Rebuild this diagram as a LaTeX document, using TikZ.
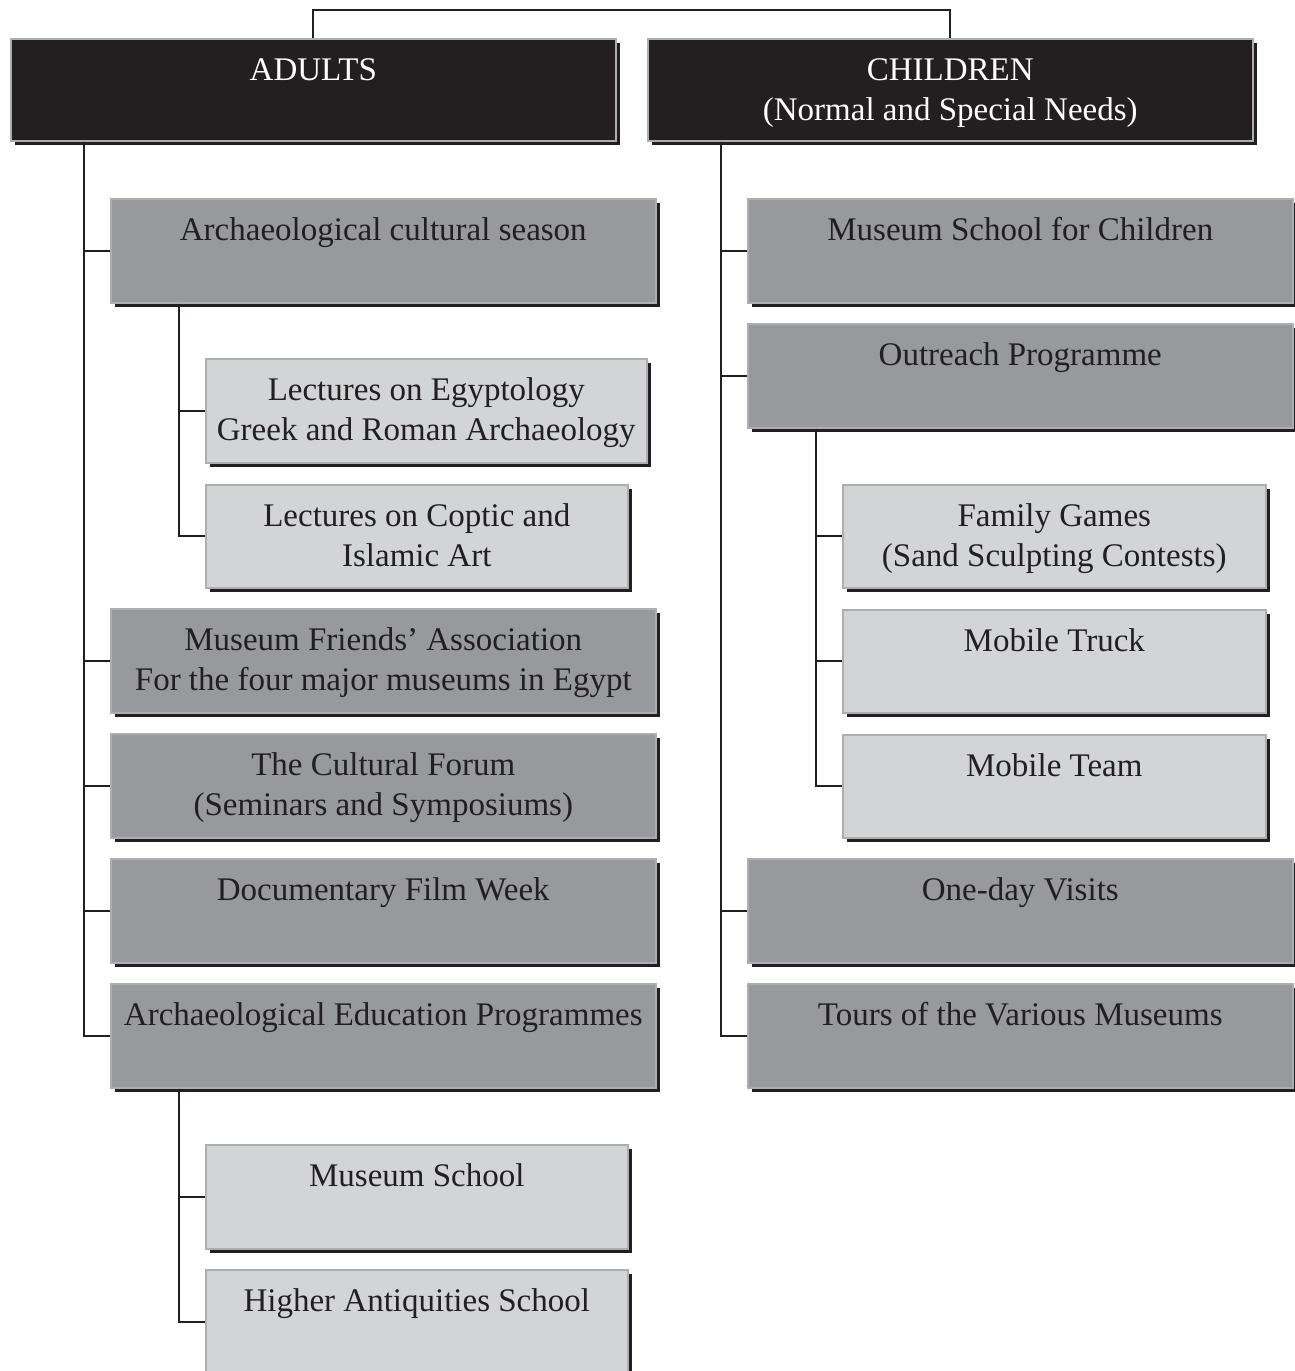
\documentclass[tikz,border=0pt]{standalone}
\usepackage{fontspec}
\setmainfont{Liberation Serif}
\usetikzlibrary{shadows}
\definecolor{ink}{HTML}{231F20}
\definecolor{dgrey}{HTML}{98999D}
\definecolor{lgrey}{HTML}{D3D4D6}
\definecolor{edge}{HTML}{ADAEB1}
\tikzset{
  box/.style={anchor=north west, draw=edge, line width=1.6pt, inner sep=0pt,
    general shadow={fill=ink, shadow xshift=4.5pt, shadow yshift=-4.5pt}},
  topbox/.style={box, fill=ink},
  midbox/.style={box, fill=dgrey},
  subbox/.style={box, fill=lgrey},
  conn/.style={draw=ink, line width=2pt},
  lbl/.style={anchor=base, inner sep=0pt, font=\fontsize{33}{40}\selectfont, text=ink},
}
% name, style, x, y, w, h, text
\newcommand\mybox[7]{%
  \node[#2, minimum width=#5pt, minimum height=#6pt] (#1) at (#3,#4) {};
  \node[lbl] (#1t) at ([yshift=-42pt]#1.north) {\parbox[t]{#5pt}{\centering #7}};
}
\begin{document}
\begin{tikzpicture}[x=1pt,y=-1pt]
\useasboundingbox (0,0) rectangle (1295,1371);

% top level
\node[topbox, minimum width=605pt, minimum height=102pt] (adults) at (10,38) {};
\node[lbl, text=white] (adultst) at ([yshift=-42pt]adults.north) {\parbox[t]{605pt}{\centering ADULTS}};
\node[topbox, minimum width=605pt, minimum height=102pt] (children) at (647,38) {};
\node[lbl, text=white] (childrent) at ([yshift=-42pt]children.north) {\parbox[t]{605pt}{\centering CHILDREN\\(Normal and Special Needs)}};

% left column
\mybox{a1}{midbox}{110}{198}{545}{104}{Archaeological cultural season}
\mybox{b1}{subbox}{205}{358}{441}{104}{Lectures on Egyptology\\Greek and Roman Archaeology}
\mybox{b2}{subbox}{205}{484}{422}{103}{Lectures on Coptic and\\Islamic Art}
\mybox{a2}{midbox}{110}{608}{545}{104}{Museum Friends’ Association\\For the four major museums in Egypt}
\mybox{a3}{midbox}{110}{733}{545}{104}{The Cultural Forum\\(Seminars and Symposiums)}
\mybox{a4}{midbox}{110}{858}{545}{104}{Documentary Film Week}
\mybox{a5}{midbox}{110}{983}{545}{104}{Archaeological Education Programmes}
\mybox{b3}{subbox}{205}{1144}{422}{104}{Museum School}
\mybox{b4}{subbox}{205}{1269}{422}{104}{Higher Antiquities School}

% right column
\mybox{c1}{midbox}{747}{198}{545}{104}{Museum School for Children}
\mybox{c2}{midbox}{747}{323}{545}{104}{Outreach Programme}
\mybox{d1}{subbox}{842}{484}{423}{103}{Family Games\\(Sand Sculpting Contests)}
\mybox{d2}{subbox}{842}{609}{423}{103}{Mobile Truck}
\mybox{d3}{subbox}{842}{734}{423}{103}{Mobile Team}
\mybox{c3}{midbox}{747}{858}{545}{104}{One-day Visits}
\mybox{c4}{midbox}{747}{983}{545}{104}{Tours of the Various Museums}

% connectors
\draw[conn] (adults.north) -- ++(0,-28) -| (children.north);

\coordinate (sLx) at (84,0);
\coordinate (s1x) at (179,0);
\coordinate (sRx) at (721,0);
\coordinate (s2x) at (816,0);

\foreach \b in {a1,a2,a3,a4,a5}
  \draw[conn] (sLx |- adults.south) |- (\b.west);
\foreach \b in {b1,b2}
  \draw[conn] (s1x |- a1.south) |- (\b.west);
\foreach \b in {b3,b4}
  \draw[conn] (s1x |- a5.south) |- (\b.west);
\foreach \b in {c1,c2,c3,c4}
  \draw[conn] (sRx |- children.south) |- (\b.west);
\foreach \b in {d1,d2,d3}
  \draw[conn] (s2x |- c2.south) |- (\b.west);
\end{tikzpicture}
\end{document}
